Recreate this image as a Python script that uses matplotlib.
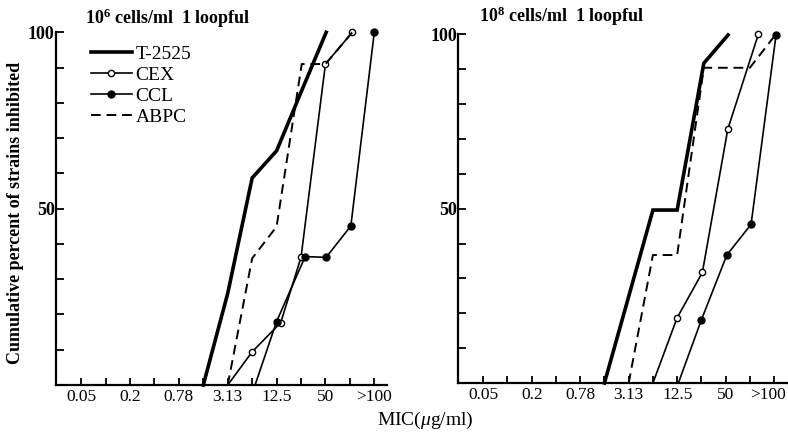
import matplotlib
matplotlib.use("Agg")
import matplotlib.pyplot as plt
from matplotlib.lines import Line2D
from matplotlib.transforms import ScaledTranslation

plt.rcParams['font.family'] = ['Liberation Serif', 'DejaVu Serif']
plt.rcParams['mathtext.fontset'] = 'custom'
plt.rcParams['mathtext.rm'] = 'Liberation Serif'
plt.rcParams['mathtext.it'] = 'Liberation Serif:italic'
plt.rcParams['mathtext.bf'] = 'Liberation Serif:bold'

# MIC dilution steps (x axis categories, two-fold)
mic_steps = ["0.05", "0.1", "0.2", "0.39", "0.78", "1.56", "3.13",
             "6.25", "12.5", "25", "50", "100", ">100"]
mic_labels = ["0.05", "", "0.2", "", "0.78", "", "3.13",
              "", "12.5", "", "50", "", ">100"]
series_names = ["T-2525", "CEX", "CCL", "ABPC"]

# Left panel: 10^6 cells/ml (x = dilution step index, y = cumulative %)
t2525_L_x = [5, 6, 7, 8, 9, 10.03]
t2525_L_y = [0, 26, 58.7, 66.4, 83, 100]
cex_L_x = [6, 7, 8.17, 9, 10, 11.1]
cex_L_y = [0, 9.4, 17.7, 36.2, 91, 100]
ccl_L_x = [7.12, 8, 9.17, 10.03, 11.04, 12]
ccl_L_y = [0, 18, 36.4, 36.2, 45.1, 100]
abpc_L_x = [6, 7, 8, 9.03, 10, 11.1]
abpc_L_y = [0, 35.9, 44.9, 91, 91, 100]

# Right panel: 10^8 cells/ml
t2525_R_x = [5, 7, 8, 9.1, 10.1]
t2525_R_y = [0, 49.6, 49.6, 91.7, 99.8]
cex_R_x = [7, 8, 9.04, 10.09, 11.35]
cex_R_y = [0, 18.7, 31.7, 72.8, 100]
ccl_R_x = [8.05, 9, 10.05, 11.05, 12.08]
ccl_R_y = [0, 18.1, 36.7, 45.5, 99.8]
abpc_R_x = [6, 7, 8, 9.1, 11, 12.05]
abpc_R_y = [0, 36.7, 36.7, 90.4, 90.4, 99.8]

fig = plt.figure(figsize=(7.88, 4.32), dpi=100)
axL = fig.add_axes([56 / 788, 1 - 385 / 432, 331 / 788, (385 - 32.3) / 432])
axR = fig.add_axes([458.3 / 788, 1 - 383 / 432, 328.4 / 788, (383 - 34.3) / 432])

STY = {
    "T-2525": dict(color='black', lw=2.6, solid_joinstyle='miter'),
    "CEX": dict(color='black', lw=1.2, marker='o', ms=4.5, mfc='white', mec='black', mew=1.0),
    "CCL": dict(color='black', lw=1.2, marker='o', ms=5, mfc='black', mec='black'),
    "ABPC": dict(color='black', lw=1.4, ls=(0, (5, 3))),
}


def style_axes(ax):
    ax.set_xlim(-1.03, 12.52)
    ax.set_ylim(0, 100)
    for s in ["top", "right"]:
        ax.spines[s].set_visible(False)
    for s in ["left", "bottom"]:
        ax.spines[s].set_linewidth(1.6)
    ax.set_xticks(range(len(mic_steps)))
    ax.set_xticklabels(mic_labels, fontsize=12.5)
    ax.set_yticks(range(0, 101, 10))
    ax.set_yticklabels(["" if v not in (50, 100) else str(v) for v in range(0, 101, 10)],
                       fontsize=13, fontweight='bold')
    ax.tick_params(axis='x', direction='in', length=5, width=1.3, pad=3)
    ax.tick_params(axis='y', direction='in', length=6, width=1.3, pad=1)


def draw(ax, xs_ys):
    for name, (x, y) in zip(series_names, xs_ys):
        kw = dict(STY[name])
        if 'marker' in kw:
            kw['markevery'] = list(range(1, len(x)))
        ax.plot(x, y, clip_on=False, **kw)


style_axes(axL)
style_axes(axR)
draw(axL, [(t2525_L_x, t2525_L_y), (cex_L_x, cex_L_y), (ccl_L_x, ccl_L_y), (abpc_L_x, abpc_L_y)])
draw(axR, [(t2525_R_x, t2525_R_y), (cex_R_x, cex_R_y), (ccl_R_x, ccl_R_y), (abpc_R_x, abpc_R_y)])

# keep the last right-panel label inside the figure, as in the reference
last = axR.get_xticklabels()[-1]
last.set_transform(last.get_transform() + ScaledTranslation(-6 / 100, 0, fig.dpi_scale_trans))

handles = [Line2D([], [], **STY[n]) for n in series_names]
leg = fig.legend(handles, series_names, loc='upper left',
                 bbox_to_anchor=(91 / 788, 1 - 45 / 432), bbox_transform=fig.transFigure,
                 frameon=False, borderpad=0, borderaxespad=0, handlelength=2.1,
                 handletextpad=0.2, labelspacing=0.18, numpoints=1,
                 prop={'family': 'Liberation Serif', 'size': 14})

fig.text(85 / 788, 1 - 18 / 432, r"$\mathbf{10^{6}}$ cells/ml  1 loopful",
         fontsize=13, fontweight='bold', ha='left', va='center')
fig.text(479 / 788, 1 - 16 / 432, r"$\mathbf{10^{8}}$ cells/ml  1 loopful",
         fontsize=13, fontweight='bold', ha='left', va='center')
fig.text(16 / 788, 1 - 213 / 432, "Cumulative percent of strains inhibited",
         rotation=90, fontsize=13, fontweight='bold', ha='center', va='center')
fig.text(425 / 788, 1 - 420 / 432, r"MIC($\mu$g/ml)", fontsize=14,
         ha='center', va='center')

fig.savefig("out.png", dpi=100)
